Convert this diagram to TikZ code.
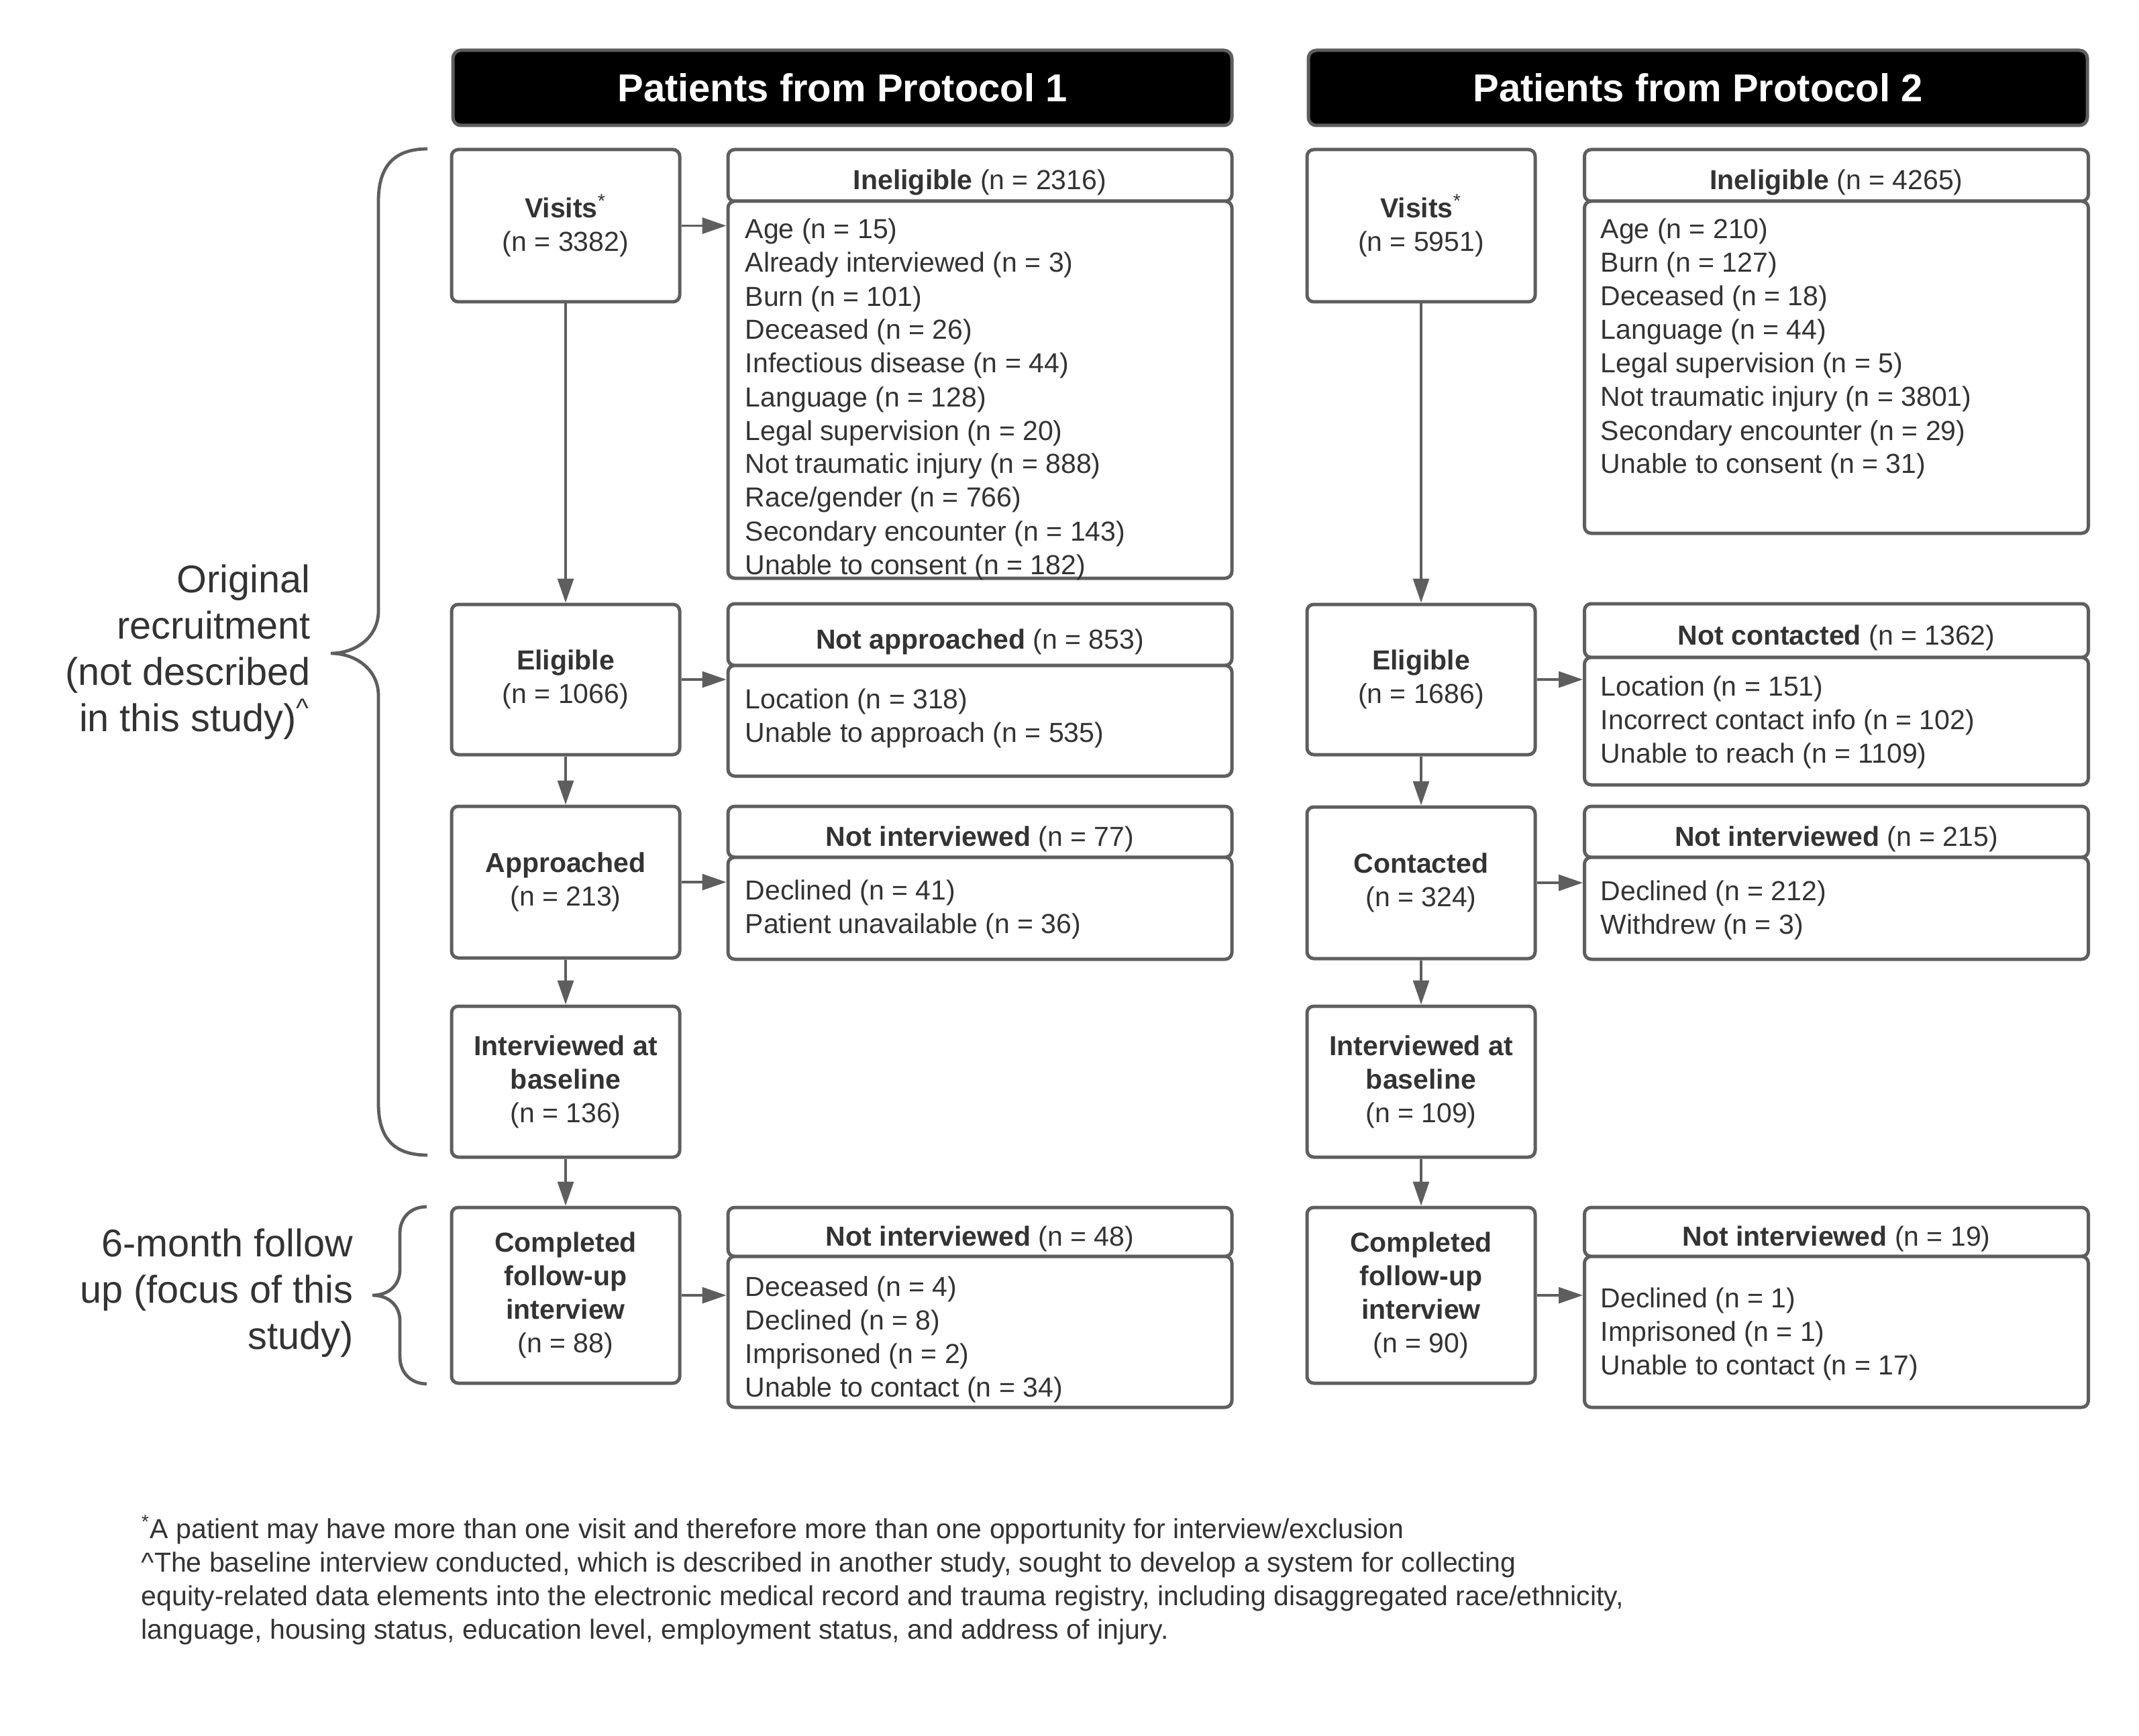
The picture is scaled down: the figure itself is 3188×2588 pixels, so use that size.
\documentclass[tikz,border=0pt]{standalone}
\usepackage{fontspec}
\setmainfont{Liberation Sans}
\usetikzlibrary{arrows.meta}
\definecolor{lc}{HTML}{5E5E5E}
\definecolor{tc}{HTML}{333333}
\newcommand{\fsn}{\fontsize{10.25pt}{12.5pt}\selectfont}
\newcommand{\fsb}{\fontsize{14.4pt}{17.25pt}\selectfont}
\begin{document}
\begin{tikzpicture}[x=0.25pt,y=-0.25pt,
  mbox/.style={draw=lc, line width=1.25pt, rounded corners=2.5pt, fill=white, inner sep=0pt,
    text=tc, font=\fsn, align=center, minimum width=85pt},
  lbox/.style={draw=lc, line width=1.25pt, rounded corners=2.5pt, fill=white, inner sep=0pt,
    text=tc, font=\fsn, align=center, minimum width=187.75pt},
  lhead/.style={lbox, text height=13pt, text depth=2.5pt},
  ltext/.style={anchor=base west, align=left, inner sep=0pt, text=tc, font=\fsn},
  hdr/.style={draw=lc, line width=1.25pt, rounded corners=3pt, fill=black, inner sep=0pt,
    text=white, font=\bfseries\fontsize{14.5pt}{17pt}\selectfont, minimum width=290.25pt, minimum height=28pt},
  arr/.style={draw=lc, line width=0.8pt, -{Triangle[length=9pt,width=6pt]}},
  bracepath/.style={draw=lc, line width=1.2pt},
  side/.style={anchor=base east, align=right, inner sep=0pt, text=tc, font=\fsb}]
\useasboundingbox (0,0) rectangle (3188,2588);

% column headers
\node[hdr] (p1) at (1255.5,131) {Patients from Protocol 1};
\node[hdr] (p2) at (2530.5,131) {Patients from Protocol 2};

% ---------- Protocol 1 main boxes ----------
\node[mbox, minimum height=56.75pt] (v1) at (843,336.5) {\textbf{Visits}\textsuperscript{*}\\(n = 3382)};
\node[mbox, minimum height=56pt] (e1) at (843,1013) {\textbf{Eligible}\\(n = 1066)};
\node[mbox, minimum height=56.5pt] (a1) at (843,1315) {\textbf{Approached}\\(n = 213)};
\node[mbox, minimum height=56.25pt] (b1) at (843,1612.5) {\textbf{Interviewed at}\\\textbf{baseline}\\(n = 136)};
\node[mbox, minimum height=65.5pt] (c1) at (843,1931) {\textbf{Completed}\\\textbf{follow-up}\\\textbf{interview}\\(n = 88)};

% ---------- Protocol 2 main boxes ----------
\node[mbox, minimum height=56.75pt] (v2) at (2118,336.5) {\textbf{Visits}\textsuperscript{*}\\(n = 5951)};
\node[mbox, minimum height=56pt] (e2) at (2118,1013) {\textbf{Eligible}\\(n = 1686)};
\node[mbox, minimum height=56.5pt] (a2) at (2118,1316) {\textbf{Contacted}\\(n = 324)};
\node[mbox, minimum height=56.25pt] (b2) at (2118,1612.5) {\textbf{Interviewed at}\\\textbf{baseline}\\(n = 109)};
\node[mbox, minimum height=65.5pt] (c2) at (2118,1931) {\textbf{Completed}\\\textbf{follow-up}\\\textbf{interview}\\(n = 90)};

% ---------- Protocol 1 exclusion boxes ----------
\node[lhead, minimum height=19.25pt] (ih1) at (1460.5,261.5) {\textbf{Ineligible} (n = 2316)};
\node[lbox, minimum height=140.5pt] (il1) at (1460.5,581) {};
\node[lhead, minimum height=23pt] (nh1) at (1460.5,946) {\textbf{Not approached} (n = 853)};
\node[lbox, minimum height=41.25pt] (nl1) at (1460.5,1074.5) {};
\node[lhead, minimum height=19pt] (ph1) at (1460.5,1240) {\textbf{Not interviewed} (n = 77)};
\node[lbox, minimum height=38pt] (pl1) at (1460.5,1354) {};
\node[lhead, minimum height=18.25pt] (fh1) at (1460.5,1836.5) {\textbf{Not interviewed} (n = 48)};
\node[lbox, minimum height=56.25pt] (fl1) at (1460.5,1985.5) {};

% (anchor base = baseline of the last line)
\node[ltext] (til1) at (1110,856) {Age (n = 15)\\Already interviewed (n = 3)\\Burn (n = 101)\\Deceased (n = 26)\\Infectious disease (n = 44)\\Language (n = 128)\\Legal supervision (n = 20)\\Not traumatic injury (n = 888)\\Race/gender (n = 766)\\Secondary encounter (n = 143)\\Unable to consent (n = 182)};
\node[ltext] (tnl1) at (1110,1106) {Location (n = 318)\\Unable to approach (n = 535)};
\node[ltext] (tpl1) at (1110,1391) {Declined (n = 41)\\Patient unavailable (n = 36)};
\node[ltext] (tfl1) at (1110,2082) {Deceased (n = 4)\\Declined (n = 8)\\Imprisoned (n = 2)\\Unable to contact (n = 34)};

% ---------- Protocol 2 exclusion boxes ----------
\node[lhead, minimum height=19.25pt] (ih2) at (2737,261.5) {\textbf{Ineligible} (n = 4265)};
\node[lbox, minimum height=123.75pt] (il2) at (2737,547.5) {};
\node[lhead, minimum height=20pt] (nh2) at (2737,940) {\textbf{Not contacted} (n = 1362)};
\node[lbox, minimum height=47.5pt] (nl2) at (2737,1075) {};
\node[lhead, minimum height=19pt] (ph2) at (2737,1240) {\textbf{Not interviewed} (n = 215)};
\node[lbox, minimum height=38pt] (pl2) at (2737,1354) {};
\node[lhead, minimum height=18.25pt] (fh2) at (2737,1836.5) {\textbf{Not interviewed} (n = 19)};
\node[lbox, minimum height=56.25pt] (fl2) at (2737,1985.5) {};

\node[ltext] (til2) at (2385,706) {Age (n = 210)\\Burn (n = 127)\\Deceased (n = 18)\\Language (n = 44)\\Legal supervision (n = 5)\\Not traumatic injury (n = 3801)\\Secondary encounter (n = 29)\\Unable to consent (n = 31)};
\node[ltext] (tnl2) at (2385,1137) {Location (n = 151)\\Incorrect contact info (n = 102)\\Unable to reach (n = 1109)};
\node[ltext] (tpl2) at (2385,1392) {Declined (n = 212)\\Withdrew (n = 3)};
\node[ltext] (tfl2) at (2385,2049) {Declined (n = 1)\\Imprisoned (n = 1)\\Unable to contact (n = 17)};

% ---------- connectors ----------
\draw[arr] (v1.south) -- (e1.north);
\draw[arr] (e1.south) -- (a1.north);
\draw[arr] (a1.south) -- (b1.north);
\draw[arr] (b1.south) -- (c1.north);
\draw[arr] (v1.east) -- (v1.east -| il1.west);
\draw[arr] (e1.east) -- (e1.east -| nl1.west);
\draw[arr] (a1.east) -- (a1.east -| pl1.west);
\draw[arr] (c1.east) -- (c1.east -| fl1.west);

\draw[arr] (v2.south) -- (e2.north);
\draw[arr] (e2.south) -- (a2.north);
\draw[arr] (a2.south) -- (b2.north);
\draw[arr] (b2.south) -- (c2.north);
\draw[arr] (e2.east) -- (e2.east -| nl2.west);
\draw[arr] (a2.east) -- (a2.east -| pl2.west);
\draw[arr] (c2.east) -- (c2.east -| fl2.west);

% ---------- braces ----------
\draw[bracepath] (637,222) .. controls (590,222) and (564,245) .. (564,300)
  -- (564,911) .. controls (564,950) and (530,974) .. (493,974)
  .. controls (530,974) and (564,998) .. (564,1037)
  -- (564,1645) .. controls (564,1700) and (590,1722) .. (637,1722);
\draw[bracepath] (636,1799) .. controls (612,1799) and (596,1815) .. (596,1839)
  -- (596,1893) .. controls (596,1915) and (580,1931) .. (555,1931)
  .. controls (580,1931) and (596,1947) .. (596,1969)
  -- (596,2022) .. controls (596,2046) and (612,2063) .. (636,2063);

\node[side] (lab1) at (463,1090) {Original\\recruitment\\(not described\\in this study)\textsuperscript{\textasciicircum}};
\node[side] (lab2) at (527,2011) {6-month follow\\up (focus of this\\study)};

% ---------- footnote ----------
\node[ltext] (fn) at (210,2443) {\textsuperscript{*}A patient may have more than one visit and therefore more than one opportunity for interview/exclusion\\\textasciicircum The baseline interview conducted, which is described in another study, sought to develop a system for collecting\\equity-related data elements into the electronic medical record and trauma registry, including disaggregated race/ethnicity,\\language, housing status, education level, employment status, and address of injury.};
\end{tikzpicture}
\end{document}
